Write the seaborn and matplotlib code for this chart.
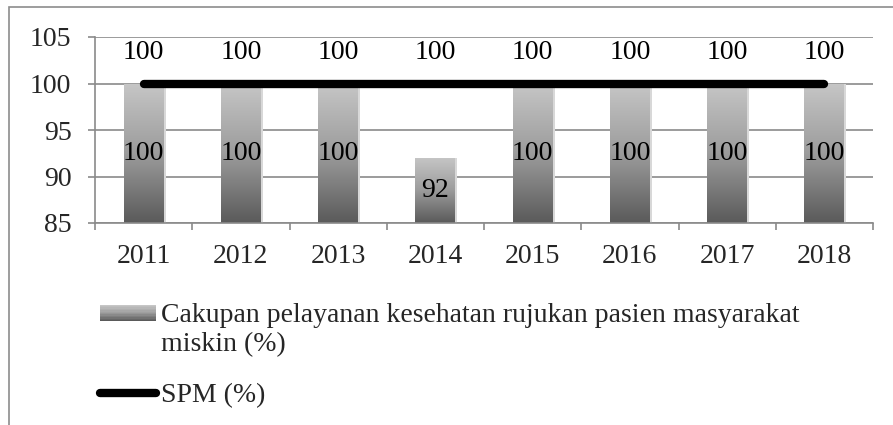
import numpy as np
import pandas as pd
import matplotlib
matplotlib.use("Agg")
import matplotlib.pyplot as plt
import seaborn as sns
from matplotlib.patches import Rectangle
from matplotlib.lines import Line2D
from matplotlib.legend_handler import HandlerBase

# Data
years = ["2011", "2012", "2013", "2014", "2015", "2016", "2017", "2018"]
cakupan = [100, 100, 100, 92, 100, 100, 100, 100]
spm = [100, 100, 100, 100, 100, 100, 100, 100]
bar_name = "Cakupan pelayanan kesehatan rujukan pasien masyarakat\nmiskin (%)"
line_name = "SPM (%)"
y_min, y_max = 85, 105

df = pd.DataFrame({"year": years, "cakupan": cakupan, "spm": spm})

sns.set_theme(style="white")
plt.rcParams["font.family"] = ["Liberation Serif", "DejaVu Serif"]
fs = 20

fig = plt.figure(figsize=(8.93, 4.25), dpi=100)
ax = fig.add_axes([95 / 893, 1 - 223 / 425, 778 / 893, 186 / 425])

# outer frame (top and left edges visible)
fig.patches.append(Rectangle((9 / 893, -0.2), 1.2, 1.2 - 7 / 425,
                             transform=fig.transFigure, fill=False,
                             edgecolor="#8c8c8c", linewidth=1.2, zorder=0))

sns.barplot(data=df, x="year", y="cakupan", width=0.41, color="#999999",
            ax=ax, zorder=2)

# gradient fill inside each bar: light at the top, dark at the bottom
grad = np.linspace(0, 1, 256).reshape(-1, 1)
cmap = matplotlib.colors.LinearSegmentedColormap.from_list(
    "g", ["#c6c6c6", "#9c9c9c", "#5a5a5a"])
ax.set_ylim(y_min, y_max)
for bar in ax.patches:
    x0 = bar.get_x()
    w = bar.get_width()
    top = bar.get_height()
    bar.set_facecolor("none")
    bar.set_edgecolor("none")
    im = ax.imshow(grad, cmap=cmap, aspect="auto",
                   extent=[x0, x0 + w, y_min, top], origin="upper", zorder=2)
    im.set_clip_path(bar)
    # faint shadow on the right side
    ax.add_patch(Rectangle((x0 + w, y_min), 0.02, top - y_min,
                           color="#d8d8d8", zorder=1.5, linewidth=0))

sns.lineplot(x=np.arange(len(years)), y=df["spm"], color="black",
             linewidth=6, solid_capstyle="round", ax=ax, zorder=3)

# value labels
for i, v in enumerate(df["cakupan"]):
    ax.text(i, (y_min + v) / 2, str(v), ha="center", va="center",
            fontsize=fs, color="black", zorder=4)
for i, v in enumerate(df["spm"]):
    ax.annotate(str(v), (i, v), xytext=(0, 22), textcoords="offset points",
                ha="center", va="center", fontsize=fs, color="black", zorder=4)

ax.set_xlim(-0.5, len(years) - 0.5)
ax.set_yticks(np.arange(y_min, y_max + 1, 5))
ax.yaxis.grid(True, color="#8a8a8a", linewidth=1.2)
ax.set_axisbelow(True)
ax.set_xlabel("")
ax.set_ylabel("")
ax.set_xticks(np.arange(len(years)))
ax.set_xticklabels(years)
ax.set_xticks(np.arange(-0.5, len(years)), minor=True)
ax.tick_params(axis="x", which="major", length=0, pad=15, labelsize=fs)
ax.tick_params(axis="x", which="minor", length=5, width=1.2, color="#8a8a8a",
               direction="out", bottom=True)
ax.tick_params(axis="y", length=5, width=1.2, color="#8a8a8a", pad=12,
               labelsize=fs, left=True)
for s in ["top", "right"]:
    ax.spines[s].set_visible(False)
for s in ["left", "bottom"]:
    ax.spines[s].set_color("#8a8a8a")
    ax.spines[s].set_linewidth(1.2)


class GradientHandler(HandlerBase):
    def create_artists(self, legend, orig_handle, xdescent, ydescent,
                       width, height, fontsize, trans):
        arts = []
        n = 12
        shift = 0.6 * fontsize
        for k in range(n):
            c = cmap(k / (n - 1))
            arts.append(Rectangle((-xdescent, -ydescent + shift + height * (1 - (k + 1) / n)),
                                  width, height / n, facecolor=c,
                                  edgecolor="none", transform=trans))
        return arts


bar_handle = Rectangle((0, 0), 1, 1)
line_handle = Line2D([0], [0], color="black", linewidth=6,
                     solid_capstyle="round")
fig.legend([bar_handle, line_handle], [bar_name, line_name],
           handler_map={Rectangle: GradientHandler()},
           loc="upper left", bbox_to_anchor=(100 / 893, 1 - 303 / 425),
           frameon=False, fontsize=fs, handlelength=2.0, handleheight=0.55,
           handletextpad=0.2, labelspacing=0.95, borderpad=0, borderaxespad=0)

fig.savefig("out.png", dpi=100)
